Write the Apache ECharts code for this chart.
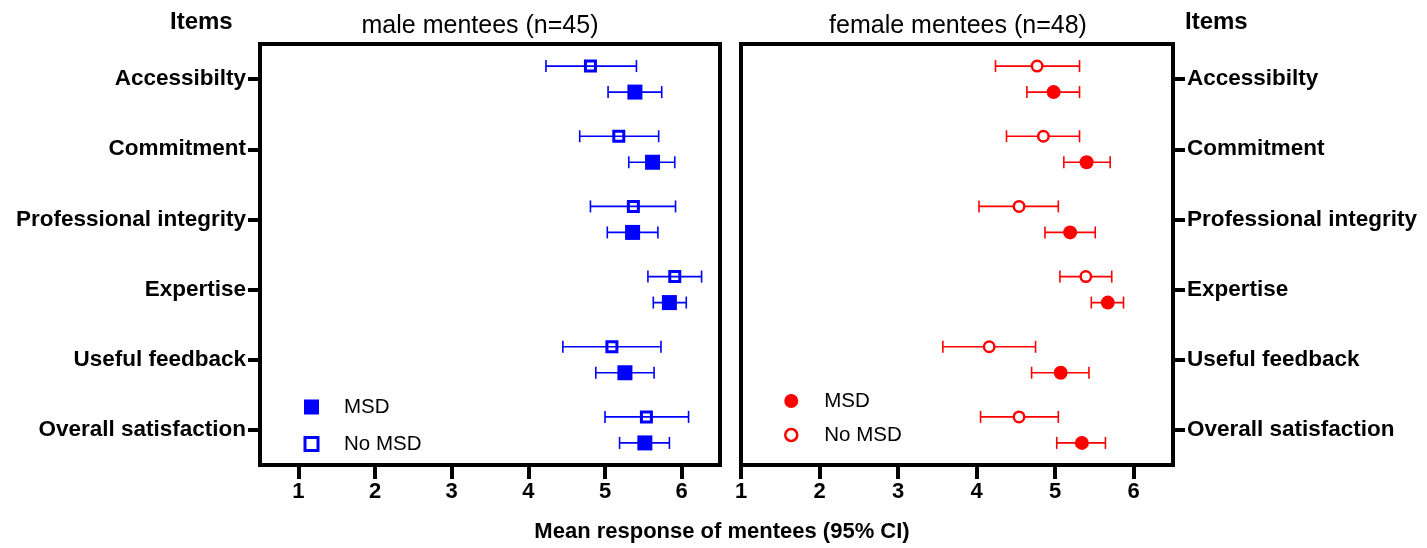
<!DOCTYPE html>
<html>
<head>
<meta charset="utf-8">
<script src="https://cdn.jsdelivr.net/npm/echarts@6/dist/echarts.min.js"></script>
<style>
  html, body { margin: 0; padding: 0; background: #fff; }
  #chart { width: 1427px; height: 548px; }
</style>
</head>
<body>
<div id="chart"></div>
<script>
// items, top to bottom
const items = ['Accessibilty', 'Commitment', 'Professional integrity', 'Expertise', 'Useful feedback', 'Overall satisfaction']
const xTicks = [1, 2, 3, 4, 5, 6]

// male mentees (n=45)
const maleMsdMean = [5.39, 5.62, 5.36, 5.84, 5.26, 5.52]
const maleMsdLow = [5.04, 5.31, 5.03, 5.63, 4.88, 5.19]
const maleMsdHigh = [5.74, 5.91, 5.69, 6.06, 5.64, 5.84]
const maleNoMean = [4.81, 5.18, 5.37, 5.91, 5.09, 5.54]
const maleNoLow = [4.23, 4.67, 4.81, 5.56, 4.45, 5.00]
const maleNoHigh = [5.41, 5.70, 5.92, 6.26, 5.73, 6.09]

// female mentees (n=48)
const femaleMsdMean = [4.98, 5.40, 5.19, 5.67, 5.07, 5.34]
const femaleMsdLow = [4.64, 5.11, 4.87, 5.46, 4.70, 5.02]
const femaleMsdHigh = [5.31, 5.70, 5.51, 5.87, 5.43, 5.64]
const femaleNoMean = [4.77, 4.85, 4.54, 5.39, 4.16, 4.54]
const femaleNoLow = [4.24, 4.38, 4.03, 5.06, 3.57, 4.05]
const femaleNoHigh = [5.31, 5.31, 5.04, 5.72, 4.75, 5.04]

const BLUE = '#0000ff'
const RED = '#ff0000'
const FONT = '"Liberation Sans", Arial, sans-serif'
const ROW_OFF = 13

const chart = echarts.init(document.getElementById('chart'))

const errorBars = (low, high, gridIdx, color, off) => ({
  type: 'custom',
  xAxisIndex: gridIdx,
  yAxisIndex: gridIdx,
  silent: true,
  z: 2,
  data: low.map((v, i) => [v, high[i], i]),
  encode: { x: [0, 1], y: 2 },
  renderItem(params, api) {
    const a = api.coord([api.value(0), api.value(2)])
    const b = api.coord([api.value(1), api.value(2)])
    const y = a[1] + off
    const style = { stroke: color, lineWidth: 1.6 }
    return {
      type: 'group',
      children: [
        { type: 'line', shape: { x1: a[0], y1: y, x2: b[0], y2: y }, style },
        { type: 'line', shape: { x1: a[0], y1: y - 6, x2: a[0], y2: y + 6 }, style },
        { type: 'line', shape: { x1: b[0], y1: y - 6, x2: b[0], y2: y + 6 }, style },
      ],
    }
  },
})

const xAxisBase = (min) => ({
  type: 'value',
  min: min,
  max: 6.5,
  axisLine: { show: false },
  splitLine: { show: false },
  axisTick: { show: true, length: 14, customValues: xTicks, lineStyle: { color: '#000', width: 4 } },
  axisLabel: {
    customValues: xTicks,
    margin: 16,
    color: '#000',
    fontSize: 22,
    fontWeight: 'bold',
    fontFamily: FONT,
  },
})

const yAxisBase = (pos) => ({
  type: 'category',
  data: items,
  inverse: true,
  position: pos,
  axisLine: { show: false },
  axisTick: { show: true, alignWithLabel: true, length: 12, lineStyle: { color: '#000', width: 4 } },
  axisLabel: { margin: 14, color: '#000', fontSize: 22.5, fontWeight: 'bold', fontFamily: FONT },
})

const titleText = (text, left, top, size, weight, align) => ({
  text: text,
  left: left,
  top: top,
  padding: 0,
  textAlign: align,
  textStyle: { color: '#000', fontSize: size, fontWeight: weight, fontFamily: FONT },
})

chart.setOption({
  backgroundColor: '#fff',
  animation: false,
  title: [
    titleText('Items', 170, 10, 24, 'bold', 'left'),
    titleText('Items', 1185, 10, 24, 'bold', 'left'),
    titleText('male mentees (n=45)', 480, 14, 25, 'normal', 'center'),
    titleText('female mentees (n=48)', 958, 14, 25, 'normal', 'center'),
    titleText('Mean response of mentees (95% CI)', 722, 521, 22, 'bold', 'center'),
  ],
  legend: [
    {
      orient: 'vertical',
      left: 303.5,
      top: 396,
      padding: 0,
      itemWidth: 13,
      itemHeight: 13,
      itemGap: 15,
      selectedMode: false,
      textStyle: { fontSize: 20.5, lineHeight: 22, color: '#000', fontFamily: FONT, padding: [0, 0, 0, 21] },
      data: [
        { name: 'MSD', icon: 'rect', itemStyle: { color: BLUE, borderColor: BLUE, borderWidth: 2 } },
        { name: 'No MSD', icon: 'rect', itemStyle: { color: '#fff', borderColor: BLUE, borderWidth: 3 } },
      ],
    },
    {
      orient: 'vertical',
      left: 784,
      top: 390,
      padding: 0,
      itemWidth: 12,
      itemHeight: 12,
      itemGap: 12,
      selectedMode: false,
      textStyle: { fontSize: 20.5, lineHeight: 22, color: '#000', fontFamily: FONT, padding: [0, 0, 0, 22] },
      data: [
        { name: 'MSD', icon: 'circle', itemStyle: { color: RED, borderColor: RED, borderWidth: 2 } },
        { name: 'No MSD', icon: 'circle', itemStyle: { color: '#fff', borderColor: RED, borderWidth: 2.5 } },
      ],
    },
  ],
  grid: [
    { left: 260, top: 44, width: 460, height: 421, show: true, borderColor: '#000', borderWidth: 4 },
    { left: 741, top: 44, width: 432, height: 421, show: true, borderColor: '#000', borderWidth: 4 },
  ],
  xAxis: [
    Object.assign({ gridIndex: 0 }, xAxisBase(0.5)),
    Object.assign({ gridIndex: 1 }, xAxisBase(1)),
  ],
  yAxis: [
    Object.assign({ gridIndex: 0 }, yAxisBase('left')),
    Object.assign({ gridIndex: 1 }, yAxisBase('right')),
  ],
  series: [
    errorBars(maleNoLow, maleNoHigh, 0, BLUE, -ROW_OFF),
    errorBars(maleMsdLow, maleMsdHigh, 0, BLUE, ROW_OFF),
    errorBars(femaleNoLow, femaleNoHigh, 1, RED, -ROW_OFF),
    errorBars(femaleMsdLow, femaleMsdHigh, 1, RED, ROW_OFF),
    {
      name: 'No MSD',
      type: 'scatter',
      xAxisIndex: 0,
      yAxisIndex: 0,
      z: 3,
      symbol: 'rect',
      symbolSize: 10,
      symbolOffset: [0, -ROW_OFF],
      itemStyle: { color: 'rgba(0,0,0,0)', borderColor: BLUE, borderWidth: 3, opacity: 1 },
      data: maleNoMean.map((v, i) => [v, i]),
    },
    {
      name: 'MSD',
      type: 'scatter',
      xAxisIndex: 0,
      yAxisIndex: 0,
      z: 3,
      symbol: 'rect',
      symbolSize: 15,
      symbolOffset: [0, ROW_OFF],
      itemStyle: { color: BLUE, opacity: 1 },
      data: maleMsdMean.map((v, i) => [v, i]),
    },
    {
      name: 'No MSD',
      type: 'scatter',
      xAxisIndex: 1,
      yAxisIndex: 1,
      z: 3,
      symbol: 'circle',
      symbolSize: 10.5,
      symbolOffset: [0, -ROW_OFF],
      itemStyle: { color: '#fff', borderColor: RED, borderWidth: 2.5, opacity: 1 },
      data: femaleNoMean.map((v, i) => [v, i]),
    },
    {
      name: 'MSD',
      type: 'scatter',
      xAxisIndex: 1,
      yAxisIndex: 1,
      z: 3,
      symbol: 'circle',
      symbolSize: 14,
      symbolOffset: [0, ROW_OFF],
      itemStyle: { color: RED, opacity: 1 },
      data: femaleMsdMean.map((v, i) => [v, i]),
    },
  ],
})
</script>
</body>
</html>
